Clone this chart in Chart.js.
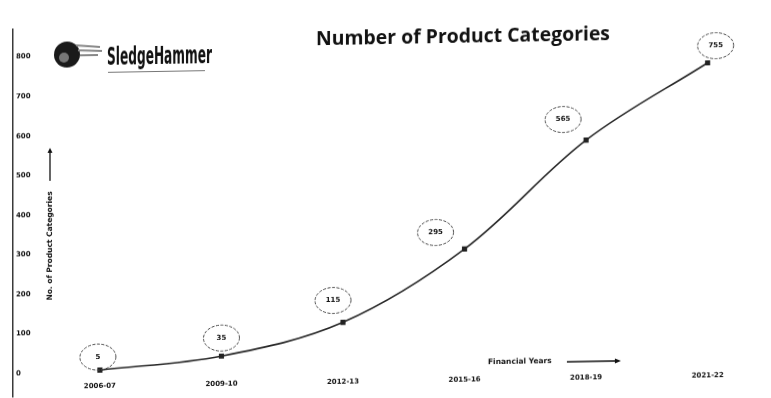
<!DOCTYPE html>
<html>
<head>
<meta charset="utf-8">
<title>Number of Product Categories</title>
<script src="https://cdn.jsdelivr.net/npm/chart.js@4/dist/chart.umd.min.js"></script>
<style>
  html, body { margin: 0; padding: 0; background: #fff; overflow: hidden; }
  #wrap { width: 771px; height: 398px; transform: skewY(-1deg); transform-origin: 385px 199px; }
</style>
</head>
<body>
<div id="wrap"><canvas id="chart_line" width="771" height="398"></canvas></div>
<script>
// Data
years = ["2006-07", "2009-10", "2012-13", "2015-16", "2018-19", "2021-22"]
categories = [5, 35, 115, 295, 565, 755]
y_ticks = [0, 100, 200, 300, 400, 500, 600, 700, 800]

var points = categories.map(function (v, i) { return { x: i, y: v } })

// draws the scanned-looking extras: title, logo, bubbles round values, axis captions
var extras = {
  id: 'extras',
  afterDraw: function (chart, args, opts) {
    var ctx = chart.ctx
    var xs = chart.scales.x, ys = chart.scales.y
    var meta = chart.getDatasetMeta(0)

    function squeezed(text, font, x, y, width) {
      ctx.save()
      ctx.font = font
      var w = ctx.measureText(text).width
      ctx.translate(x, y)
      ctx.scale(width / w, 1)
      ctx.textAlign = 'left'
      ctx.textBaseline = 'alphabetic'
      ctx.fillText(text, 0, 0)
      ctx.restore()
    }

    ctx.save()
    ctx.fillStyle = '#111'

    // value bubbles
    meta.data.forEach(function (pt, i) {
      var off = opts.bubbleOffsets[i]
      var cx = pt.x + off[0], cy = pt.y + off[1]
      ctx.beginPath()
      ctx.ellipse(cx, cy, 18, 13, 0, 0, Math.PI * 2)
      ctx.setLineDash([3, 1.5])
      ctx.lineWidth = 1
      ctx.strokeStyle = '#4a4a4a'
      ctx.stroke()
      ctx.setLineDash([])
      ctx.font = 'bold 7px "DejaVu Sans"'
      ctx.textAlign = 'center'
      ctx.textBaseline = 'middle'
      ctx.fillText(categories[i], cx, cy)
    })

    // category labels under the line
    ctx.font = 'bold 7px "DejaVu Sans"'
    ctx.textAlign = 'center'
    ctx.textBaseline = 'middle'
    years.forEach(function (y, i) {
      ctx.fillText(y, xs.getPixelForValue(i), ys.getPixelForValue(-35))
    })

    // title
    squeezed('Number of Product Categories', 'bold 20px "Open Sans"', 316, 44, 294)

    // logo
    ctx.fillStyle = '#1a1a1a'
    ctx.beginPath()
    ctx.arc(67, 49, 13, 0, Math.PI * 2)
    ctx.fill()
    ctx.fillStyle = '#777'
    ctx.beginPath()
    ctx.arc(64, 52, 5, 0, Math.PI * 2)
    ctx.fill()
    ctx.strokeStyle = '#888'
    ctx.lineWidth = 2
    ;[[76, 40, 100, 42], [78, 45, 102, 46], [80, 50, 98, 50]].forEach(function (s) {
      ctx.beginPath(); ctx.moveTo(s[0], s[1]); ctx.lineTo(s[2], s[3]); ctx.stroke()
    })
    ctx.fillStyle = '#111'
    squeezed('SledgeHammer', 'bold 24px "DejaVu Sans Condensed"', 107, 60, 105)
    ctx.fillStyle = '#777'
    ctx.fillRect(108, 67, 97, 1)

    // y axis caption with arrow
    ctx.fillStyle = '#111'
    ctx.save()
    ctx.translate(50, 240)
    ctx.rotate(-Math.PI / 2)
    ctx.font = 'bold 7.5px "DejaVu Sans"'
    ctx.textAlign = 'center'
    ctx.textBaseline = 'middle'
    ctx.fillText('No. of Product Categories', 0, 0)
    ctx.strokeStyle = '#111'
    ctx.lineWidth = 1.3
    ctx.beginPath(); ctx.moveTo(65, 0); ctx.lineTo(96, 0); ctx.stroke()
    ctx.beginPath(); ctx.moveTo(98, 0); ctx.lineTo(93, -2.5); ctx.lineTo(93, 2.5); ctx.closePath(); ctx.fill()
    ctx.restore()

    // x axis caption with arrow
    ctx.fillStyle = '#111'
    ctx.font = 'bold 7.5px "DejaVu Sans"'
    ctx.textAlign = 'left'
    ctx.textBaseline = 'middle'
    ctx.fillText('Financial Years', 488, 364)
    ctx.strokeStyle = '#111'
    ctx.lineWidth = 1.3
    ctx.beginPath(); ctx.moveTo(567, 365); ctx.lineTo(616, 365); ctx.stroke()
    ctx.beginPath(); ctx.moveTo(621, 365); ctx.lineTo(615, 362.5); ctx.lineTo(615, 367.5); ctx.closePath(); ctx.fill()

    ctx.restore()
  }
}

var config = {
  type: 'line',
  data: {
    datasets: [{
      label: 'No. of Product Categories',
      data: points,
      borderColor: '#262626',
      borderWidth: 1.6,
      tension: 0.35,
      pointStyle: 'rect',
      pointRadius: 2.5,
      pointBackgroundColor: '#222',
      pointBorderColor: '#222',
      fill: false
    }]
  },
  options: {
    responsive: false,
    animation: false,
    devicePixelRatio: 1,
    layout: { padding: { left: 13, right: 11, top: 23, bottom: 1 } },
    plugins: {
      legend: { display: false },
      tooltip: { enabled: false },
      extras: { bubbleOffsets: [[-2, -13], [0, -18], [-10, -22], [-29, -17], [-23, -21], [8, -17]] }
    },
    scales: {
      x: { type: 'linear', min: -0.715, max: 5.43, display: false },
      y: {
        min: -60,
        max: 870,
        afterBuildTicks: function (s) { s.ticks = y_ticks.map(function (v) { return { value: v } }) },
        afterFit: function (s) { s.width = 0 },
        grid: { display: false, drawTicks: false },
        border: { display: true, color: '#3a3a3a', width: 1.5 },
        ticks: { mirror: true, padding: 3, color: '#111', font: { family: 'DejaVu Sans', size: 7, weight: 'bold' } }
      }
    }
  },
  plugins: [extras]
}

var ctx = document.getElementById('chart_line')
var ch_line = new Chart(ctx, config)
</script>
</body>
</html>
